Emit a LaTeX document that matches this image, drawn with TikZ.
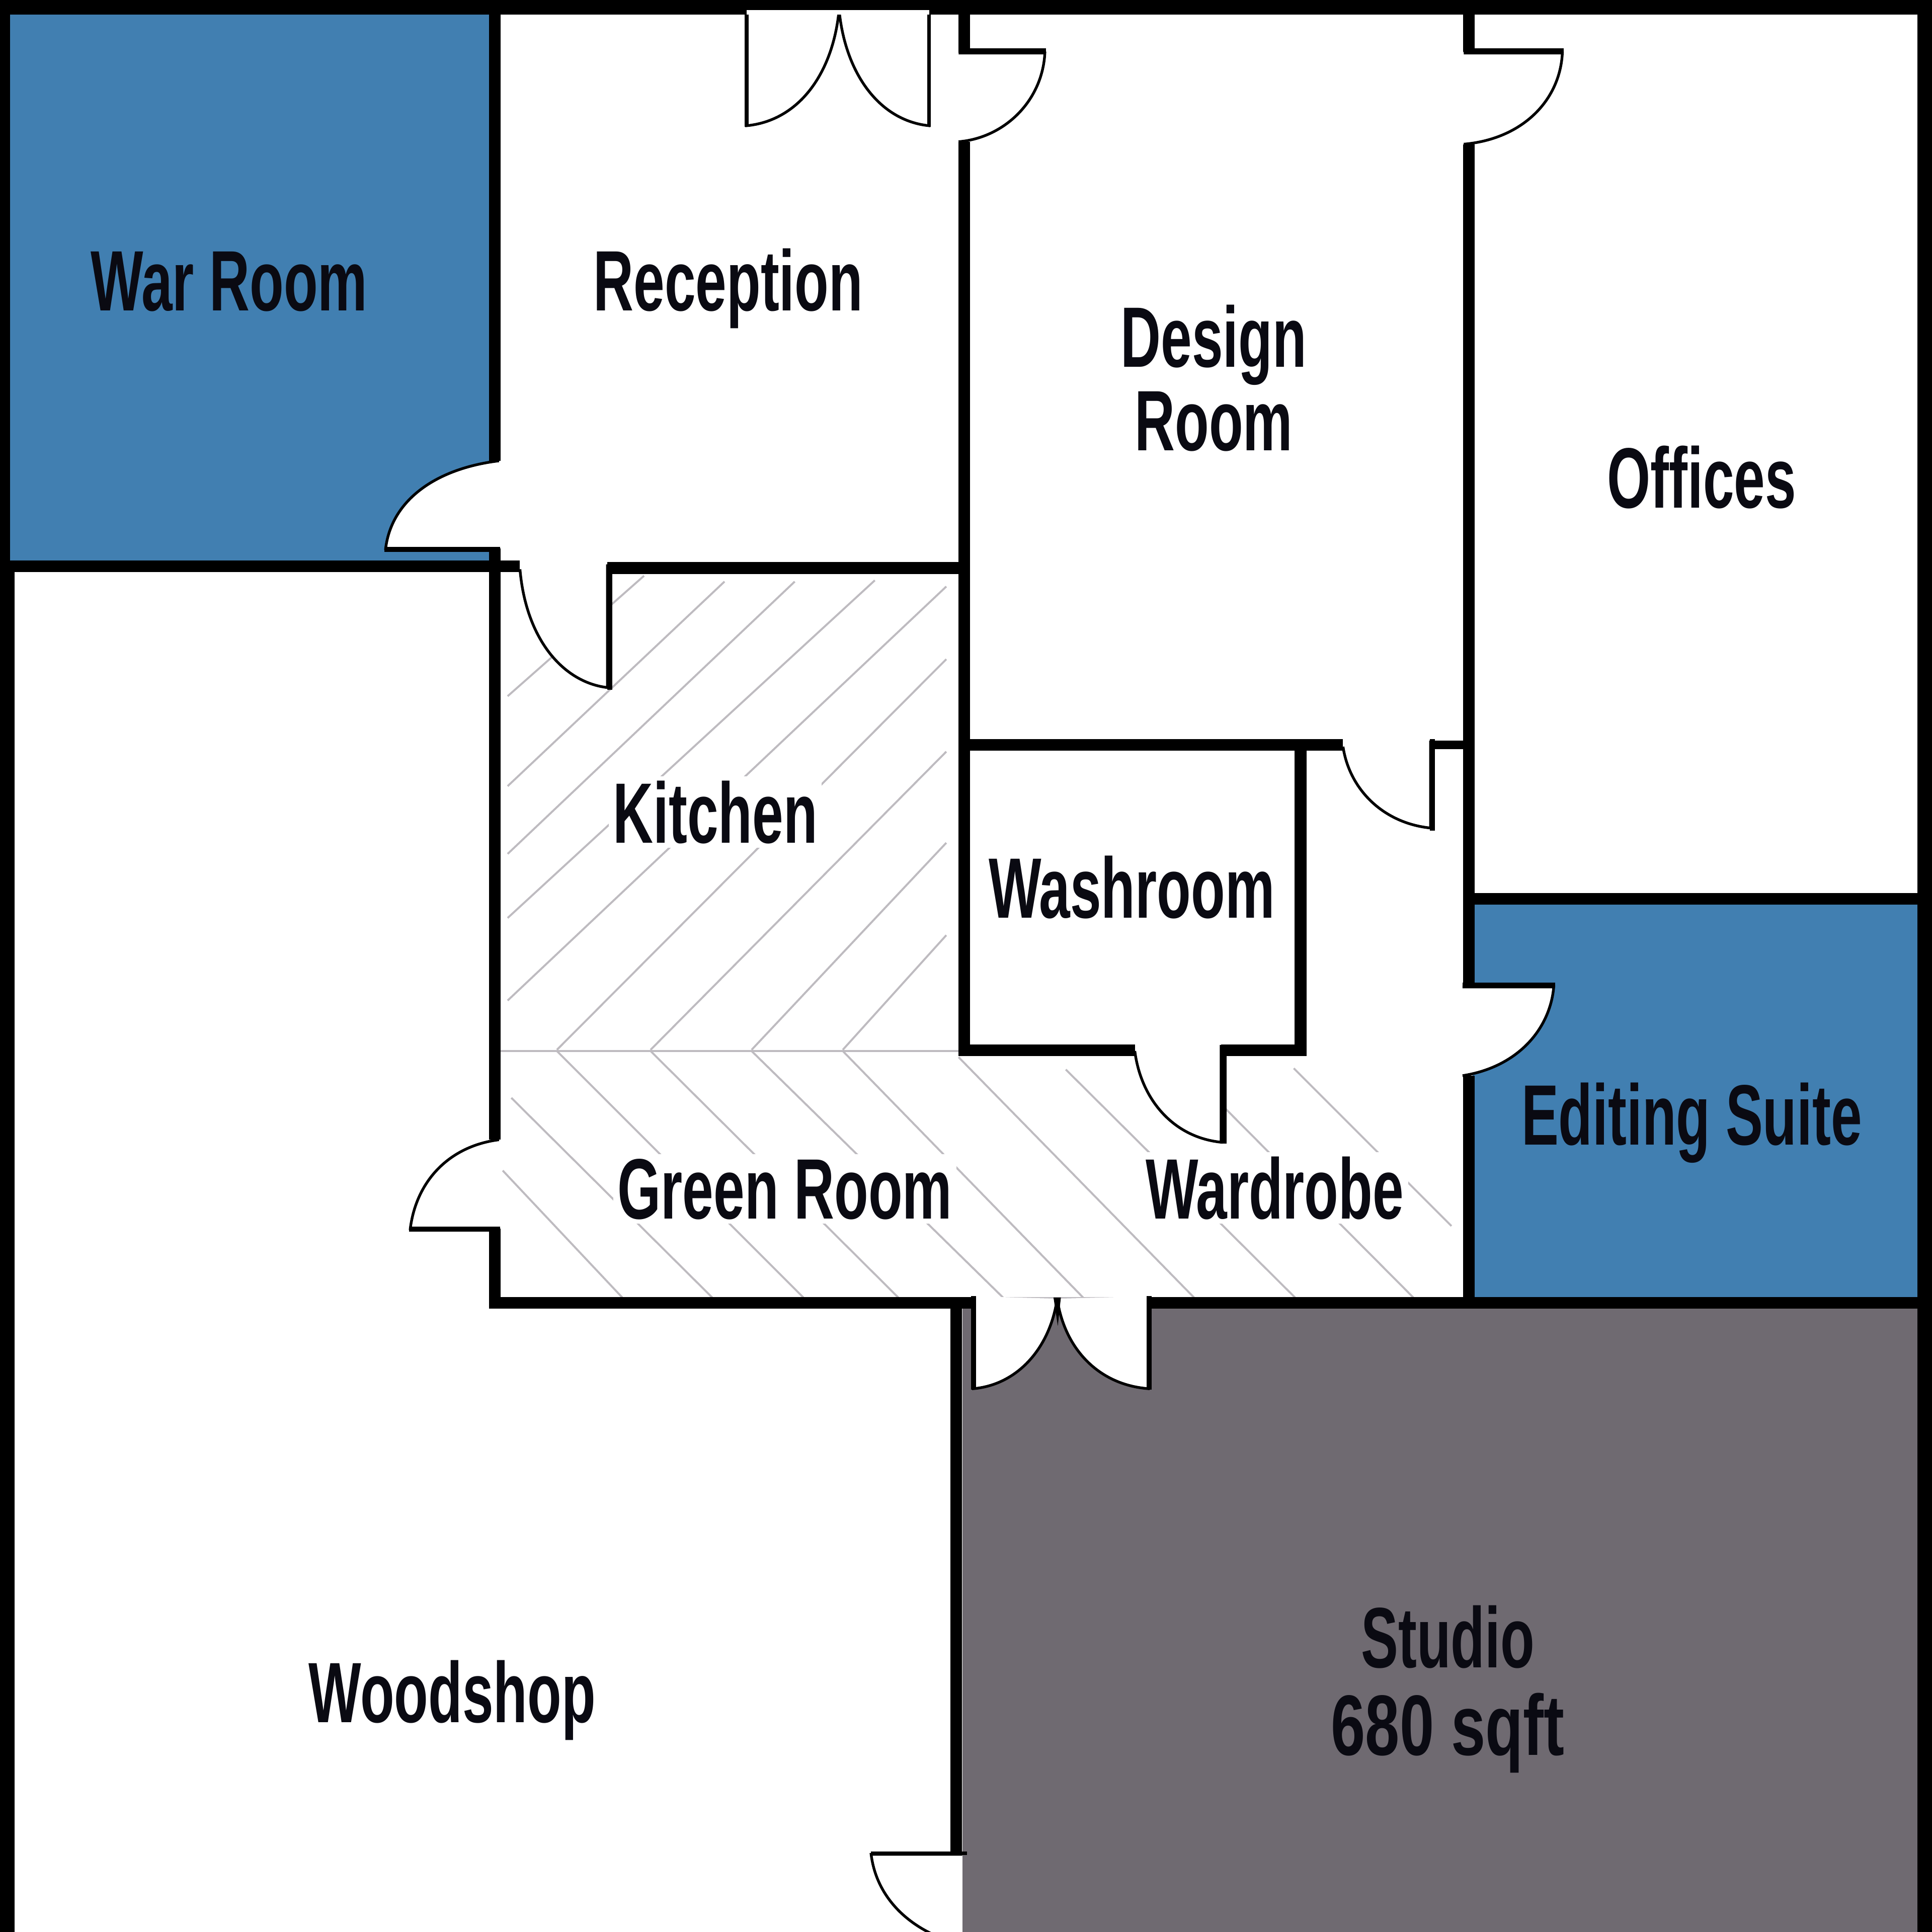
\documentclass[tikz,border=0pt]{standalone}
\usepackage{fontspec}
\setmainfont[FakeStretch=0.65]{Liberation Sans}
\definecolor{roomblue}{RGB}{65,127,177}
\definecolor{studiogrey}{RGB}{111,106,113}
\definecolor{hatchgrey}{RGB}{190,187,192}
\definecolor{labelblack}{RGB}{10,10,18}
\tikzset{
  wall/.style={line width=0.95mm, black},
  outerwall/.style={line width=1.2mm, black},
  doorleaf/.style={line width=0.4mm, black},
  doorswing/.style={fill=white, draw=black, line width=0.22mm},
  hatchline/.style={line width=0.16mm, hatchgrey},
  roomlabel/.style={font=\bfseries\fontsize{19.8}{19.3}\selectfont, text=labelblack, align=center, inner sep=0pt},
  hatchlabel/.style={roomlabel, fill=white, inner sep=1pt},
}

\begin{document}
\begin{tikzpicture}[x=0.1mm, y=-0.1mm]
  \useasboundingbox (0,0) rectangle (1568,1568);
  \fill [white] (0,0) rectangle (1568,1568);

  % coloured rooms
  \fill [roomblue] (6,8) rectangle (399,457);
  \fill [roomblue] (1195,730) rectangle (1558,1055);
  \fill [studiogrey] (781,1058) rectangle (1558,1568);

  % kitchen floor
  \foreach \xa/\ya/\xb/\yb in {412/565/522.7/467.3, 412/638/588/472, 412/693/645/472, 412/745/710/471, 412/812/768/476,
    452/852/768/535, 528/852/768/610, 610/852/768/684, 684/852/768/759} {
    \draw [hatchline] (\xa,\ya) -- (\xb,\yb);
  }
  \draw [hatchline] (406,853) -- (778,853);
  % green room floor
  \foreach \xa/\ya/\xb/\yb in {408/950/505/1053, 415/891/578/1053, 452/853/652/1053, 528/853/729/1053, 610/853/814/1053,
    684/853/879/1053, 778/858/969/1053, 865/868/1051/1053, 952/857/1147/1053, 1050/867/1178/995} {
    \draw [hatchline] (\xa,\ya) -- (\xb,\yb);
  }
  \draw [hatchline] (790,1053.5) -- (932,1053.5);

  % doors
  \filldraw [doorswing] (405,374) .. controls (355,380) and (318,405) .. (313,445) -- (405,445);
  \draw [doorleaf] (312,446) -- (406,446);
  \filldraw [doorswing] (422,462) .. controls (427,520) and (458,554) .. (493,558) -- (493,458);
  \draw [doorleaf] (495,456) -- (495,560);
  \filldraw [doorswing] (681,8) .. controls (676,60) and (648,98) .. (606,102) -- (606,8);
  \filldraw [doorswing] (681,8) .. controls (686,60) and (714,98) .. (754,102) -- (754,8);
  \draw [doorleaf, line width=0.3mm] (606,6) -- (606,103);
  \draw [doorleaf, line width=0.3mm] (754,6) -- (754,103);
  \filldraw [doorswing] (778,115) .. controls (815,112) and (846,82) .. (848,43) -- (778,43);
  \draw [doorleaf] (778,41) -- (849,41);
  \filldraw [doorswing] (1188,117) .. controls (1235,113) and (1266,82) .. (1268,43) -- (1188,43);
  \draw [doorleaf] (1188,41) -- (1269,41);
  \filldraw [doorswing] (1090,606) .. controls (1095,640) and (1122,668) .. (1161,672) -- (1161,601);
  \draw [doorleaf] (1162.5,600) -- (1162.5,674);
  \filldraw [doorswing] (921,853) .. controls (926,892) and (952,923) .. (991,927) -- (991,848);
  \draw [doorleaf] (993.5,848) -- (993.5,928);
  \filldraw [doorswing] (1187,873) .. controls (1232,866) and (1258,835) .. (1261,801) -- (1187,801);
  \draw [doorleaf] (1187,799.5) -- (1262,799.5);
  \filldraw [doorswing] (405,925) .. controls (365,930) and (338,958) .. (333,997) -- (405,997);
  \draw [doorleaf] (332,997.5) -- (406,997.5);
  \filldraw [doorswing] (858,1054) .. controls (852,1095) and (825,1124) .. (790,1127) -- (790,1052);
  \filldraw [doorswing] (858,1054) .. controls (864,1095) and (892,1124) .. (932,1127) -- (932,1052);
  \draw [doorleaf] (790,1052) -- (790,1128);
  \draw [doorleaf] (932.5,1052) -- (932.5,1128);
  \fill [black] (855,1053) -- (861,1053) -- (858.5,1076) -- cycle;
  \filldraw [doorswing] (781,1578) .. controls (745,1570) and (712,1545) .. (707,1505) -- (781,1505);
  \draw [doorleaf, line width=0.3mm] (707,1504) -- (785,1504);

  % outer walls
  \fill [white] (606,8) rectangle (754,12);
  \draw [line width=0.8mm] (4,0) -- (4,460);
  \draw [outerwall] (6,455) -- (6,1568);
  \draw [outerwall] (0,6) -- (606,6);
  \draw [line width=0.8mm] (606,4) -- (754,4);
  \draw [outerwall] (754,6) -- (1568,6);
  \draw [outerwall] (1562,0) -- (1562,1568);

  % inner walls
  \draw [wall] (401.5,8) -- (401.5,374);
  \draw [wall] (401.5,445) -- (401.5,925);
  \draw [wall] (401.5,997) -- (401.5,1062);
  \draw [wall] (0,459.5) -- (422,459.5);
  \draw [wall] (493,461) -- (787,461);
  \draw [wall] (782.5,8) -- (782.5,42);
  \draw [wall] (782.5,115) -- (782.5,857);
  \draw [wall] (1192,8) -- (1192,42);
  \draw [wall] (1192,117) -- (1192,800);
  \draw [wall] (1192,873) -- (1192,1062);
  \draw [wall] (778,604.5) -- (1090,604.5);
  \draw [wall, line width=0.7mm] (1160,604.5) -- (1188,604.5);
  \draw [wall] (1055.5,600) -- (1055.5,857);
  \draw [wall] (778,852.5) -- (921,852.5);
  \draw [wall] (991,852.5) -- (1060,852.5);
  \draw [wall] (1197,729.5) -- (1560,729.5);
  \draw [wall] (397,1057.5) -- (790,1057.5);
  \draw [wall] (932,1057.5) -- (1560,1057.5);
  \draw [wall] (776,1053) -- (776,1504);

  % room names
  \node [roomlabel, anchor=base] (warroom) at (186,252) {War Room};
  \node [roomlabel, anchor=base] (reception) at (591,252) {Reception};
  \node [roomlabel] (designroom) at (985,307) {Design\\Room};
  \node [roomlabel, anchor=base] (offices) at (1381,412) {Offices};
  \node [hatchlabel, anchor=base] (kitchen) at (580.5,684) {Kitchen};
  \node [roomlabel, anchor=base] (washroom) at (918.5,745) {Washroom};
  \node [hatchlabel, anchor=base] (greenroom) at (637,989) {Green Room};
  \node [hatchlabel, anchor=base] (wardrobe) at (1034.5,989) {Wardrobe};
  \node [roomlabel, anchor=base] (editing) at (1373,929) {Editing Suite};
  \node [roomlabel, anchor=base] (woodshop) at (367,1398) {Woodshop};
  \node [roomlabel] (studio) at (1175,1371) {Studio\\[0.9pt]{\addfontfeature{FakeStretch=0.72}680 sqft}};
\end{tikzpicture}
\end{document}
